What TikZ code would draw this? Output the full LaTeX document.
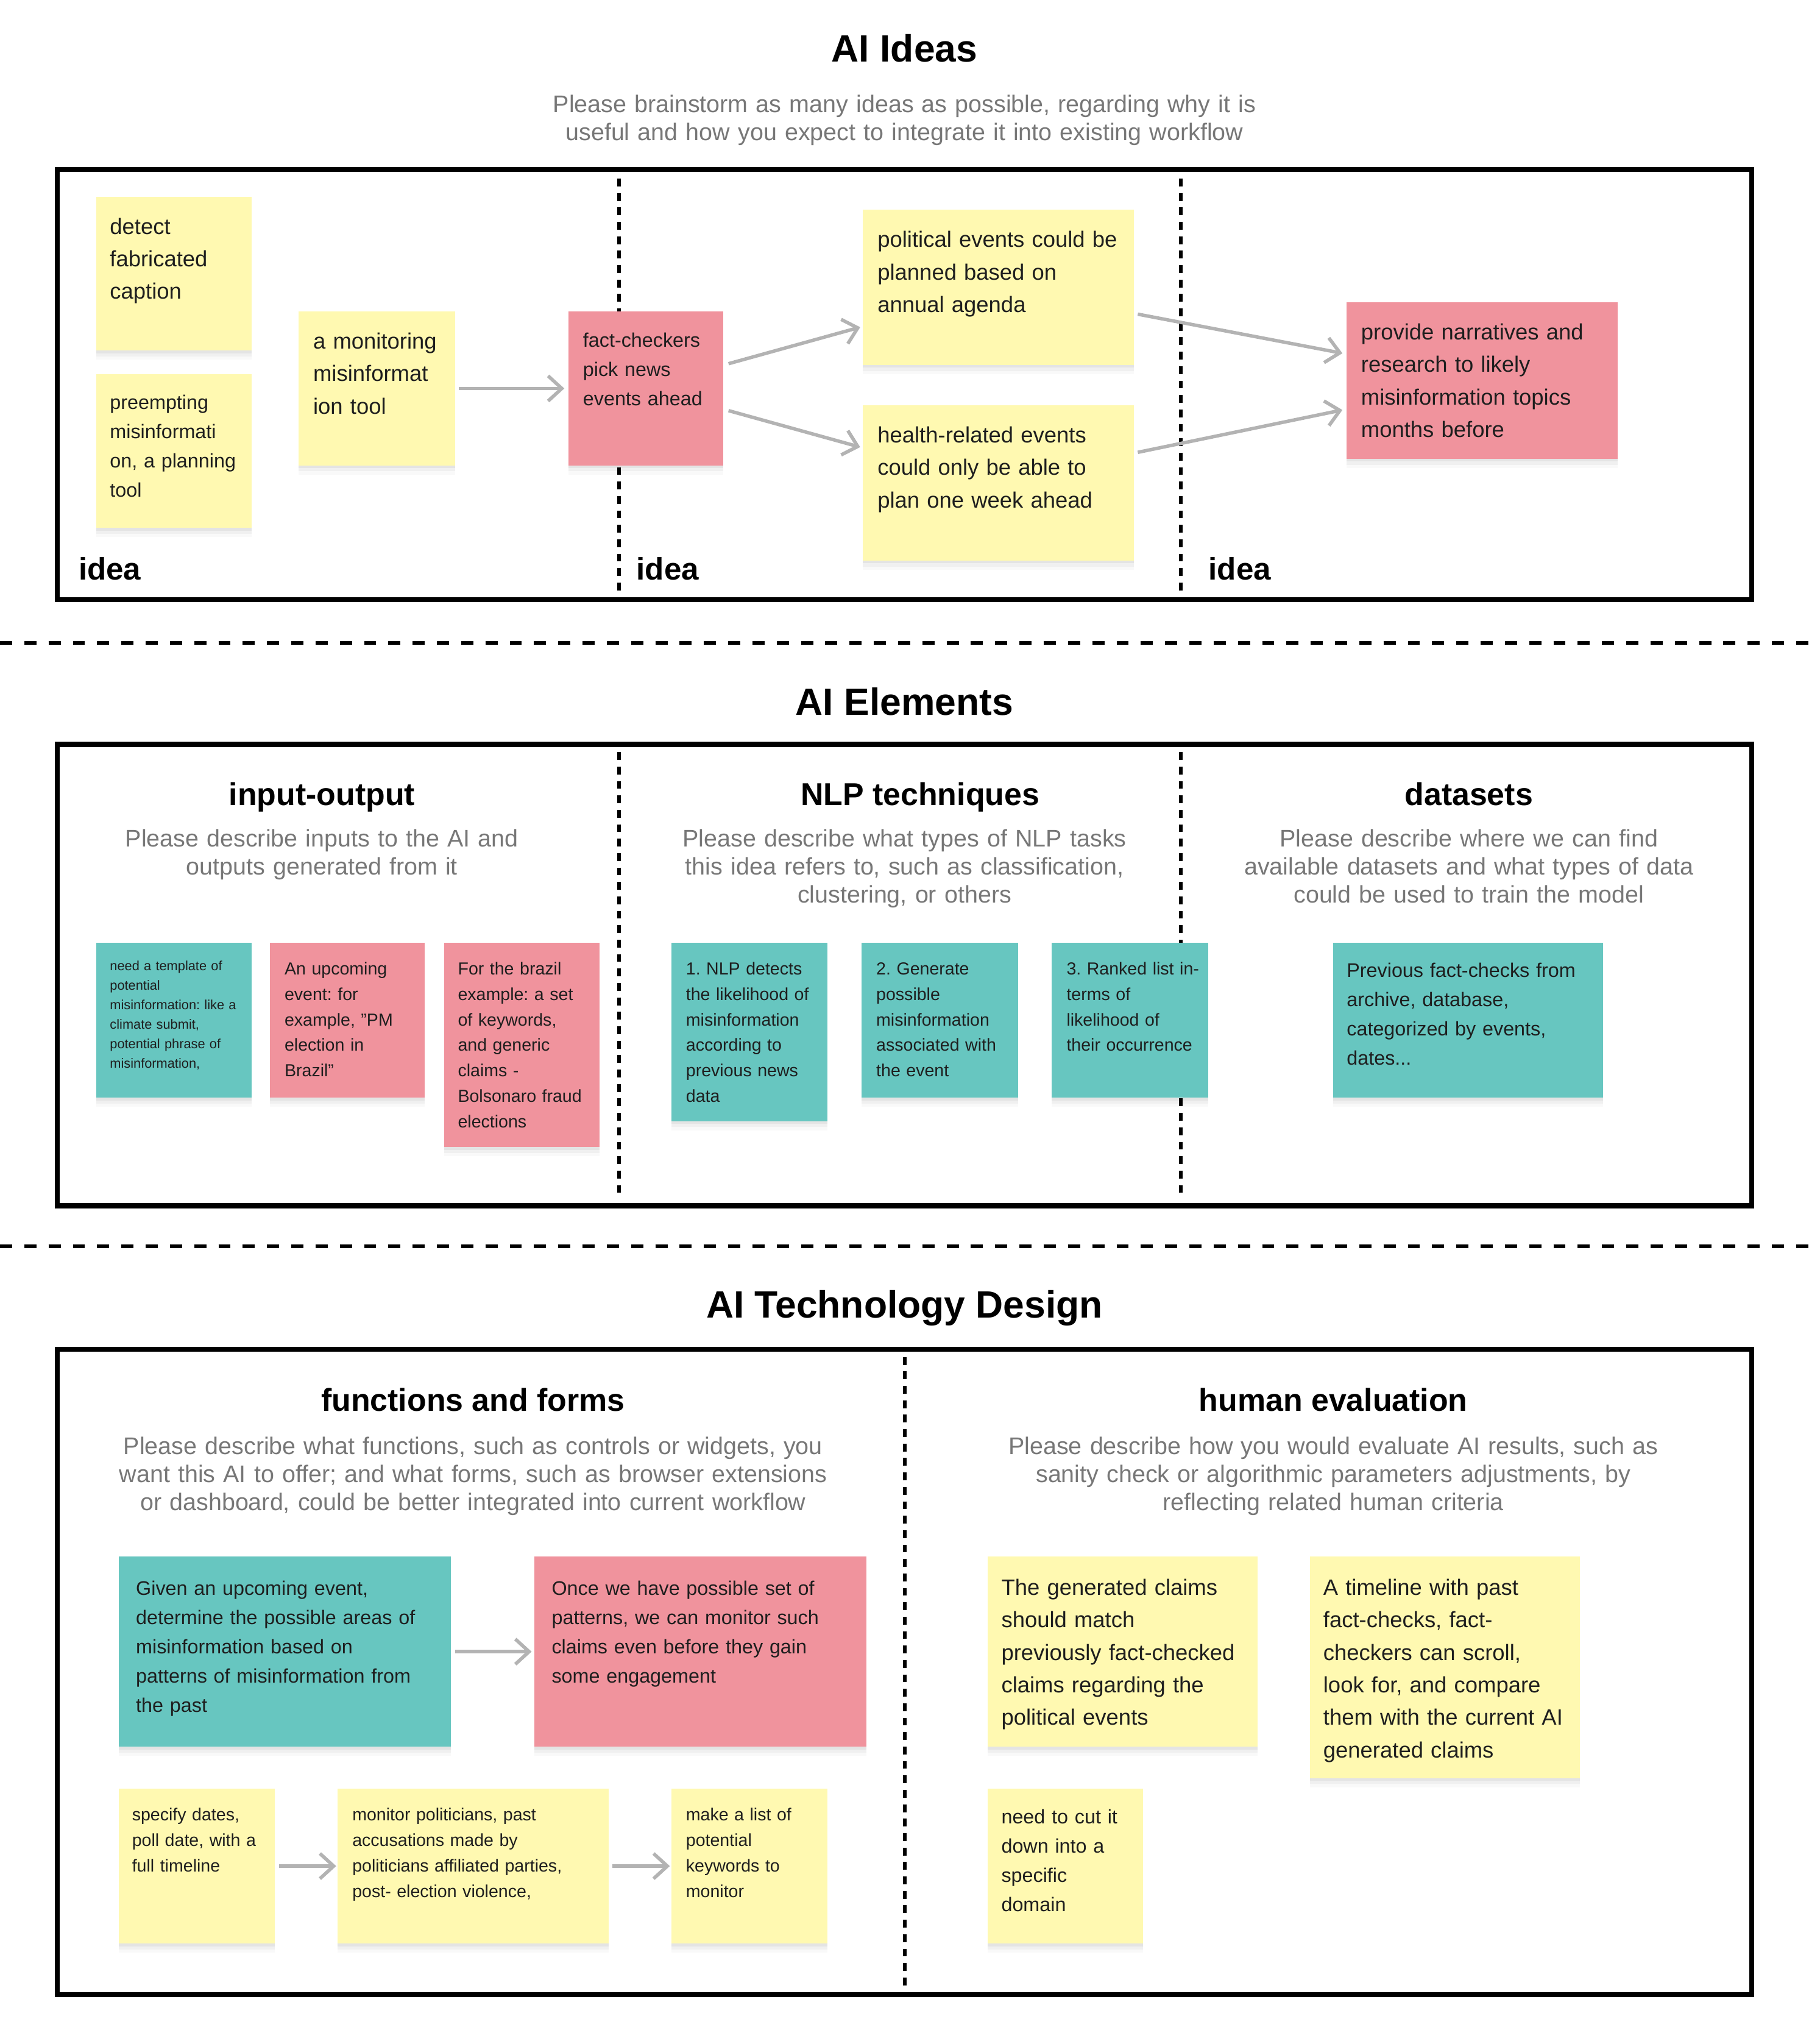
\documentclass[tikz,border=0pt]{standalone}
\usepackage{fontspec}
\setmainfont{Liberation Sans}
\usetikzlibrary{arrows.meta,shadows,calc}
\frenchspacing

\definecolor{stickyY}{HTML}{FFF9B1}
\definecolor{stickyP}{HTML}{F0939D}
\definecolor{stickyT}{HTML}{67C6C0}
\definecolor{txtdark}{HTML}{1E1E1E}
\definecolor{descgray}{HTML}{777777}
\definecolor{arrowgray}{HTML}{B3B3B3}

\tikzset{
  note/.style={draw=none, inner sep=0pt, outer sep=0pt,
    general shadow={fill=black, opacity=0.05, shadow yshift=-1.2pt},
    general shadow={fill=black, opacity=0.035, shadow yshift=-2.6pt},
    general shadow={fill=black, opacity=0.025, shadow yshift=-4pt}},
  bigtxt/.style={font=\fontsize{9.7}{14.2}\selectfont, text=txtdark, text width=6cm, align=left, inner sep=0pt},
  medtxt/.style={font=\fontsize{8.6}{12.75}\selectfont, text=txtdark, text width=6cm, align=left, inner sep=0pt},
  smalltxt/.style={font=\fontsize{7.6}{11.15}\selectfont, text=txtdark, text width=6cm, align=left, inner sep=0pt},
  tinytxt/.style={font=\fontsize{5.8}{8.5}\selectfont, text=txtdark, text width=6cm, align=left, inner sep=0pt},
  sectitle/.style={font=\fontsize{16.6}{20}\selectfont\bfseries, inner sep=0pt},
  colhead/.style={font=\fontsize{13.8}{16}\selectfont\bfseries, inner sep=0pt},
  desc/.style={font=\fontsize{10.5}{12.2}\selectfont, text=descgray, text width=12cm, align=center, inner sep=0pt},
  idealabel/.style={font=\fontsize{13.6}{16}\selectfont\bfseries, inner sep=0pt},
  frame/.style={line width=2.2pt},
  sepline/.style={line width=1.6pt, dash pattern=on 5.3pt off 5.3pt},
  divider/.style={line width=1.6pt, dash pattern=on 3.4pt off 2.9pt},
  arr/.style={draw=arrowgray, line width=1.5pt, -{Straight Barb[length=6pt,width=11pt]}},
}

% #1 name, #2 colour, #3 x1, #4 y1, #5 x2, #6 y2, #7 text style, #8 text offset, #9 text
\newcommand{\Sticky}[9]{%
  \node[note, fill=#2, minimum width={(#5-#3)*0.02cm}, minimum height={(#6-#4)*0.02cm}, anchor=north west] (#1) at (#3,#4) {};
  \node[#7, anchor=mid west] (#1-t) at ($(#3,#4)+(#8)$) {#9};
}

\begin{document}
\begin{tikzpicture}[x=0.02cm, y=-0.02cm]
\useasboundingbox (0,0) rectangle (1388,1568);

% ---------- frames, dividers, separators ----------
\draw[frame] (44,130) rectangle (1344,460);
\draw[frame] (44,571) rectangle (1344,925);
\draw[frame] (44,1035) rectangle (1344,1530);

\draw[divider] (475,137) -- (475,455);
\draw[divider] (906,137) -- (906,455);
\draw[divider] (475,577) -- (475,920);
\draw[divider] (906,577) -- (906,920);
\draw[divider] (694,1041) -- (694,1523);

\draw[sepline] (0,493) -- (1388,493);
\draw[sepline] (0,956) -- (1388,956);

% ---------- section 1: AI Ideas ----------
\node[sectitle, anchor=base] (t1) at (694,47.5) {AI Ideas};
\node[desc, anchor=mid] (d1) at (694,81.5) {Please brainstorm as many ideas as possible, regarding why it is\\useful and how you expect to integrate it into existing workflow};

\Sticky{s1}{stickyY}{74}{151}{193}{269}{bigtxt}{10,24}{detect\\fabricated\\caption}
\Sticky{s2}{stickyY}{74}{287}{193}{405}{medtxt}{10,22.5}{preempting\\misinformati\\on, a planning\\tool}
\Sticky{s3}{stickyY}{229}{239}{349}{357}{bigtxt}{11,24}{a monitoring\\misinformat\\ion tool}
\Sticky{s4}{stickyP}{436}{239}{555}{357}{medtxt}{11,22.5}{fact-checkers\\pick news\\events ahead}
\Sticky{s5}{stickyY}{662}{161}{870}{280}{bigtxt}{11,24}{political events could be\\planned based on\\annual agenda}
\Sticky{s6}{stickyY}{662}{311}{870}{430}{bigtxt}{11,24}{health-related events\\could only be able to\\plan one week ahead}
\Sticky{s7}{stickyP}{1033}{232}{1241}{352}{bigtxt}{11,24}{provide narratives and\\research to likely\\misinformation topics\\months before}

\node[idealabel, anchor=mid west] (i1) at (60,440) {idea};
\node[idealabel, anchor=mid west] (i2) at (488,440) {idea};
\node[idealabel, anchor=mid west] (i3) at (927,440) {idea};

\draw[arr] ([xshift=1.7pt]s3.east) -- ([xshift=-1.7pt]s4.west);
\draw[arr] ([shift={(4,-19)}]s4.east) -- ([shift={(-2,30.5)}]s5.west);
\draw[arr] ([shift={(4,17)}]s4.east) -- ([shift={(-2,-27.5)}]s6.west);
\draw[arr] ([shift={(3,20.5)}]s5.east) -- ([shift={(-3,-21)}]s7.west);
\draw[arr] ([shift={(3,-23.5)}]s6.east) -- ([shift={(-3,22.5)}]s7.west);

% ---------- section 2: AI Elements ----------
\node[sectitle, anchor=base] (t2) at (694,548.5) {AI Elements};

\node[colhead, anchor=mid] (h1) at (247,613) {input-output};
\node[colhead, anchor=mid] (h2) at (706,613) {NLP techniques};
\node[colhead, anchor=mid] (h3) at (1127,613) {datasets};

\node[desc, anchor=mid] (d2a) at (247,645) {Please describe inputs to the AI and\\outputs generated from it};
\node[desc, anchor=mid] (d2b) at (694,645) {Please describe what types of NLP tasks\\this idea refers to, such as classification,\\clustering, or others};
\node[desc, anchor=mid] (d2c) at (1127,645) {Please describe where we can find\\available datasets and what types of data\\could be used to train the model};

\Sticky{e1}{stickyT}{74}{723}{193}{842}{tinytxt}{10,17}{need a template of\\potential\\misinformation: like a\\climate submit,\\potential phrase of\\misinformation,}
\Sticky{e2}{stickyP}{207}{723}{326}{842}{smalltxt}{11,20}{An upcoming\\event: for\\example, "PM\\election in\\Brazil"}
\Sticky{e3}{stickyP}{341}{723}{460}{880}{smalltxt}{10,20}{For the brazil\\example: a set\\of keywords,\\and generic\\claims -\\Bolsonaro fraud\\elections}
\Sticky{e4}{stickyT}{515}{723}{635}{860}{smalltxt}{11,20}{1. NLP detects\\the likelihood of\\misinformation\\according to\\previous news\\data}
\Sticky{e5}{stickyT}{661}{723}{781}{842}{smalltxt}{11,20}{2. Generate\\possible\\misinformation\\associated with\\the event}
\Sticky{e6}{stickyT}{807}{723}{927}{842}{smalltxt}{11,20}{3. Ranked list in-\\terms of\\likelihood of\\their occurrence}
\Sticky{e7}{stickyT}{1023}{723}{1230}{842}{medtxt}{10,22}{Previous fact-checks from\\archive, database,\\categorized by events,\\dates...}

% ---------- section 3: AI Technology Design ----------
\node[sectitle, anchor=base] (t3) at (694,1011) {AI Technology Design};

\node[colhead, anchor=mid] (h4) at (363,1078) {functions and forms};
\node[colhead, anchor=mid] (h5) at (1023,1078) {human evaluation};

\node[desc, anchor=mid] (d3a) at (363,1111) {Please describe what functions, such as controls or widgets, you\\want this AI to offer; and what forms, such as browser extensions\\or dashboard, could be better integrated into current workflow};
\node[desc, anchor=mid] (d3b) at (1023,1111) {Please describe how you would evaluate AI results, such as\\sanity check or algorithmic parameters adjustments, by\\reflecting related human criteria};

\Sticky{f1}{stickyT}{91}{1194}{346}{1340}{medtxt}{13,25}{Given an upcoming event,\\determine the possible areas of\\misinformation based on\\patterns of misinformation from\\the past}
\Sticky{f2}{stickyP}{410}{1194}{665}{1340}{medtxt}{13,25}{Once we have possible set of\\patterns, we can monitor such\\claims even before they gain\\some engagement}
\Sticky{f3}{stickyY}{91}{1372}{211}{1491}{smalltxt}{10,20}{specify dates,\\poll date, with a\\full timeline}
\Sticky{f4}{stickyY}{259}{1372}{467}{1491}{smalltxt}{11,20}{monitor politicians, past\\accusations made by\\politicians affiliated parties,\\post- election violence,}
\Sticky{f5}{stickyY}{515}{1372}{635}{1491}{smalltxt}{11,20}{make a list of\\potential\\keywords to\\monitor}
\Sticky{f6}{stickyY}{758}{1194}{965}{1340}{bigtxt}{10,25}{The generated claims\\should match\\previously fact-checked\\claims regarding the\\political events}
\Sticky{f7}{stickyY}{1005}{1194}{1212}{1364}{bigtxt}{10,25}{A timeline with past\\fact-checks, fact-\\checkers can scroll,\\look for, and compare\\them with the current AI\\generated claims}
\Sticky{f8}{stickyY}{758}{1372}{877}{1491}{medtxt}{10,22.5}{need to cut it\\down into a\\specific\\domain}

\draw[arr] ([xshift=1.8pt]f1.east) -- ([xshift=-1.2pt]f2.west);
\draw[arr] ([xshift=1.7pt]f3.east) -- ([xshift=-0.6pt]f4.west);
\draw[arr] ([xshift=1.7pt]f4.east) -- ([xshift=-0.6pt]f5.west);
\end{tikzpicture}
\end{document}
